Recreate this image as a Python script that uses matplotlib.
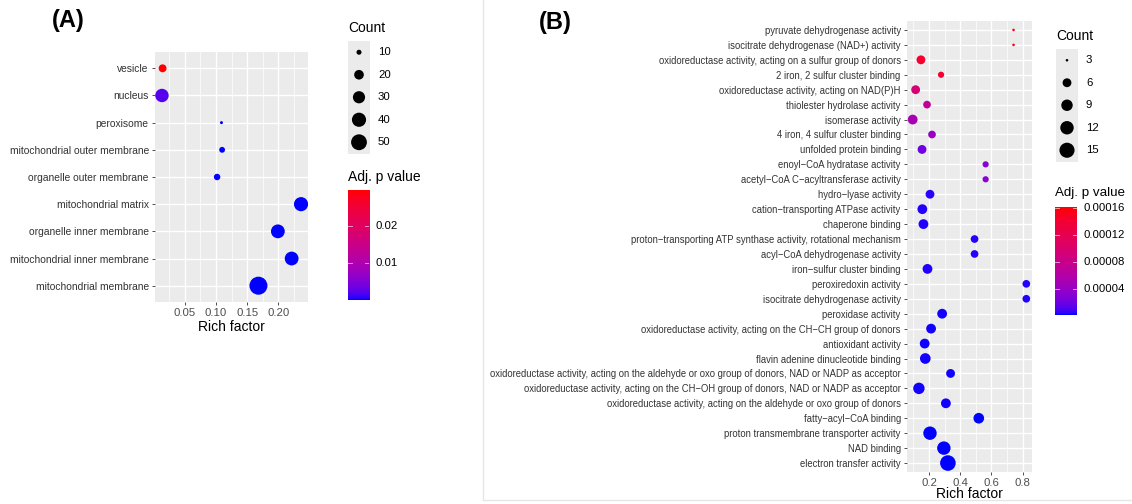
import numpy as np
import matplotlib
matplotlib.use("Agg")
import matplotlib.pyplot as plt
from matplotlib.colors import ListedColormap, Normalize
from matplotlib.lines import Line2D

plt.rcParams['font.family'] = ['Liberation Sans', 'DejaVu Sans']

# ---- data: panel A (cellular component) ----
terms_a = ['vesicle', 'nucleus', 'peroxisome', 'mitochondrial outer membrane',
           'organelle outer membrane', 'mitochondrial matrix', 'organelle inner membrane',
           'mitochondrial inner membrane', 'mitochondrial membrane']
rich_a = [0.015, 0.014, 0.109, 0.110, 0.102, 0.236, 0.199, 0.221, 0.168]
count_a = [15, 36, 9, 11, 12, 40, 38, 38, 65]
padj_a = [0.0297, 0.002, 0.00003, 0.00004, 0.00004, 0.00001, 0.00001, 0.00001, 0.00001]
count_breaks_a = [10, 20, 30, 40, 50]
p_breaks_a = [0.01, 0.02]

# ---- data: panel B (molecular function) ----
terms_b = ['pyruvate dehydrogenase activity',
           'isocitrate dehydrogenase (NAD+) activity',
           'oxidoreductase activity, acting on a sulfur group of donors',
           '2 iron, 2 sulfur cluster binding',
           'oxidoreductase activity, acting on NAD(P)H',
           'thiolester hydrolase activity',
           'isomerase activity',
           '4 iron, 4 sulfur cluster binding',
           'unfolded protein binding',
           'enoyl\u2212CoA hydratase activity',
           'acetyl\u2212CoA C\u2212acyltransferase activity',
           'hydro\u2212lyase activity',
           'cation\u2212transporting ATPase activity',
           'chaperone binding',
           'proton\u2212transporting ATP synthase activity, rotational mechanism',
           'acyl\u2212CoA dehydrogenase activity',
           'iron\u2212sulfur cluster binding',
           'peroxiredoxin activity',
           'isocitrate dehydrogenase activity',
           'peroxidase activity',
           'oxidoreductase activity, acting on the CH\u2212CH group of donors',
           'antioxidant activity',
           'flavin adenine dinucleotide binding',
           'oxidoreductase activity, acting on the aldehyde or oxo group of donors, NAD or NADP as acceptor',
           'oxidoreductase activity, acting on the CH\u2212OH group of donors, NAD or NADP as acceptor',
           'oxidoreductase activity, acting on the aldehyde or oxo group of donors',
           'fatty\u2212acyl\u2212CoA binding',
           'proton transmembrane transporter activity',
           'NAD binding',
           'electron transfer activity']
rich_b = [0.742, 0.742, 0.148, 0.277, 0.114, 0.187, 0.095, 0.219, 0.155, 0.563,
          0.563, 0.206, 0.157, 0.164, 0.492, 0.492, 0.190, 0.824, 0.824, 0.284,
          0.213, 0.172, 0.176, 0.338, 0.135, 0.308, 0.519, 0.206, 0.295, 0.321]
count_b = [3, 3, 6, 4, 6, 5, 7, 5, 6, 4,
           4, 6, 7, 7, 5, 5, 7, 5, 5, 7,
           7, 7, 8, 6, 9, 7, 8, 12, 12, 16]
padj_b = [0.000157, 0.000156, 0.000141, 0.000141, 0.000095, 0.000071, 0.000052, 0.000040, 0.000020, 0.000032,
          0.000032, 0.000004, 0.000003, 0.000003, 0.000003, 0.000003, 0.000003, 0.000003, 0.000003, 0.000002,
          0.000002, 0.000002, 0.000002, 0.000002, 0.000002, 0.000002, 0.000001, 0.000001, 0.000001, 0.000001]
count_breaks_b = [3, 6, 9, 12, 15]
p_breaks_b = [0.00004, 0.00008, 0.00012, 0.00016]

W, H = 1132, 504


def fbox(x0, y0, x1, y1):
    # pixel box (top-left origin) -> figure fraction rect
    return [x0 / W, 1 - y1 / H, (x1 - x0) / W, (y1 - y0) / H]


# blue -> red gradient interpolated in Lab space (like ggplot)
def srgb_to_lab(rgb):
    c = np.asarray(rgb, float)
    lin = np.where(c <= 0.04045, c / 12.92, ((c + 0.055) / 1.055) ** 2.4)
    M = np.array([[0.4124, 0.3576, 0.1805], [0.2126, 0.7152, 0.0722], [0.0193, 0.1192, 0.9505]])
    xyz = M @ lin / np.array([0.95047, 1.0, 1.08883])
    f = np.where(xyz > (6 / 29) ** 3, np.cbrt(xyz), xyz / (3 * (6 / 29) ** 2) + 4 / 29)
    return np.array([116 * f[1] - 16, 500 * (f[0] - f[1]), 200 * (f[1] - f[2])])


def lab_to_srgb(lab):
    L, a, b = lab
    fy = (L + 16) / 116
    f = np.array([fy + a / 500, fy, fy - b / 200])
    xyz = np.where(f > 6 / 29, f ** 3, 3 * (6 / 29) ** 2 * (f - 4 / 29)) * np.array([0.95047, 1.0, 1.08883])
    Minv = np.array([[3.2406, -1.5372, -0.4986], [-0.9689, 1.8758, 0.0415], [0.0557, -0.2040, 1.0570]])
    lin = np.clip(Minv @ xyz, 0, 1)
    return np.clip(np.where(lin <= 0.0031308, 12.92 * lin, 1.055 * lin ** (1 / 2.4) - 0.055), 0, 1)


lab_lo = srgb_to_lab([0, 0, 1])
lab_hi = srgb_to_lab([1, 0, 0])
cmap = ListedColormap([lab_to_srgb(lab_lo + t * (lab_hi - lab_lo)) for t in np.linspace(0, 1, 256)])


def dot_size(c, cmin, cmax, px_mm):
    frac = np.clip((np.asarray(c, float) - cmin) / (cmax - cmin), 0, 1)
    d_px = px_mm * (1 + 5 * np.sqrt(frac))
    return (d_px * 72 / 100) ** 2


def dot_panel(rect, terms, rich, counts, padj, xticks, xminor, fs_y, px_mm, norm):
    ax = fig.add_axes(rect)
    n = len(terms)
    y = np.arange(n)[::-1]
    ax.set_facecolor('#EBEBEB')
    ax.scatter(rich, y, s=dot_size(counts, min(counts), max(counts), px_mm),
               c=cmap(norm(padj)), linewidths=0, zorder=3)
    lo, hi = min(rich), max(rich)
    pad = (hi - lo) * 0.05
    ax.set_xlim(lo - pad, hi + pad)
    ax.set_ylim(-0.6, n - 1 + 0.6)
    for xm in xminor:
        ax.axvline(xm, color='white', lw=0.5, zorder=1)
    for xv in xticks:
        ax.axvline(xv, color='white', lw=1.0, zorder=1)
    for yv in y:
        ax.axhline(yv, color='white', lw=1.0, zorder=1)
    ax.set_xticks(xticks)
    ax.set_yticks(y)
    ax.set_yticklabels(terms, fontsize=fs_y, color='#4D4D4D')
    ax.tick_params(axis='x', labelsize=8.2, colors='#333333', labelcolor='#4D4D4D', length=2.5, width=0.6, pad=2)
    ax.tick_params(axis='y', colors='#333333', length=2.5, width=0.6, pad=2)
    for sp in ax.spines.values():
        sp.set_visible(False)
    return ax


def count_legend(x0, y0, breaks, cmin, cmax, px_mm):
    fig.text(x0 / W, 1 - y0 / H, 'Count', fontsize=10, va='center', ha='left')
    kh = 22.5
    top = y0 + 13
    kax = fig.add_axes(fbox(x0, top, x0 + 22, top + kh * len(breaks)))
    kax.set_facecolor('#EBEBEB')
    ky = np.arange(len(breaks))[::-1]
    kax.scatter(np.zeros(len(breaks)), ky, s=dot_size(breaks, cmin, cmax, px_mm), c='black', linewidths=0)
    kax.set_xlim(-1, 1)
    kax.set_ylim(-0.5, len(breaks) - 0.5)
    kax.set_xticks([])
    kax.set_yticks([])
    for sp in kax.spines.values():
        sp.set_visible(False)
    for i, b in enumerate(breaks):
        fig.text((x0 + 30) / W, 1 - (top + kh * (i + 0.5)) / H, str(b), fontsize=8.2, va='center')


def p_colorbar(x0, y0, x1, y1, norm, breaks, fmt, title_y, title_fs):
    fig.text(x0 / W, 1 - title_y / H, 'Adj. p value', fontsize=title_fs, va='center', ha='left')
    cax = fig.add_axes(fbox(x0, y0, x1, y1))
    grad = np.linspace(norm.vmin, norm.vmax, 200).reshape(-1, 1)
    cax.imshow(grad, aspect='auto', origin='lower', cmap=cmap, norm=norm,
               extent=[0, 1, norm.vmin, norm.vmax])
    for b in breaks:
        if b <= norm.vmax * 1.04:
            cax.plot([0, 0.2], [b, b], color='white', lw=0.6, alpha=0.7)
            cax.plot([0.8, 1], [b, b], color='white', lw=0.6, alpha=0.7)
            yy = y1 - (b - norm.vmin) / (norm.vmax - norm.vmin) * (y1 - y0)
            fig.text((x1 + 7) / W, 1 - yy / H, fmt % b, fontsize=8.2, va='center')
    cax.set_xlim(0, 1)
    cax.set_ylim(norm.vmin, norm.vmax)
    cax.set_xticks([])
    cax.set_yticks([])
    for sp in cax.spines.values():
        sp.set_visible(False)


fig = plt.figure(figsize=(W / 100, H / 100), dpi=100)

# faint frame around panel B
fig.add_artist(Line2D([483 / W, 483 / W], [1 - 500 / H, 1.0], color='#E6E6E6', lw=1))
fig.add_artist(Line2D([483 / W, 1.0], [1 - 500 / H, 1 - 500 / H], color='#E6E6E6', lw=1))

PXMM_A, PXMM_B = 3.0, 2.6
norm_a = Normalize(min(padj_a), max(padj_a))
norm_b = Normalize(min(padj_b), 0.000161)

ax_a = dot_panel(fbox(155, 52, 308, 302), terms_a, rich_a, count_a, padj_a,
                 [0.05, 0.10, 0.15, 0.20], [0.025, 0.075, 0.125, 0.175, 0.225], 7.4, PXMM_A, norm_a)
ax_a.set_xticklabels(['0.05', '0.10', '0.15', '0.20'])
ax_a.set_xlabel('Rich factor', fontsize=10, labelpad=1)

ax_b = dot_panel(fbox(907, 21, 1032, 472), terms_b, rich_b, count_b, padj_b,
                 [0.2, 0.4, 0.6, 0.8], [0.1, 0.3, 0.5, 0.7], 6.88, PXMM_B, norm_b)
ax_b.set_xticklabels(['0.2', '0.4', '0.6', '0.8'])
ax_b.set_xlabel('Rich factor', fontsize=10, labelpad=-1)

fig.text(68 / W, 1 - 21 / H, '(A)', fontsize=17, fontweight='bold', ha='center', va='center')
fig.text(555 / W, 1 - 22 / H, '(B)', fontsize=17, fontweight='bold', ha='center', va='center')

count_legend(348, 28, count_breaks_a, min(count_a), max(count_a), PXMM_A)
p_colorbar(348, 190, 369, 300, norm_a, p_breaks_a, '%.2f', 177, 10)

count_legend(1056, 36, count_breaks_b, min(count_b), max(count_b), PXMM_B)
p_colorbar(1055, 207, 1077, 315, norm_b, p_breaks_b, '%.5f', 193, 9.6)

fig.savefig('out.png', dpi=100)
